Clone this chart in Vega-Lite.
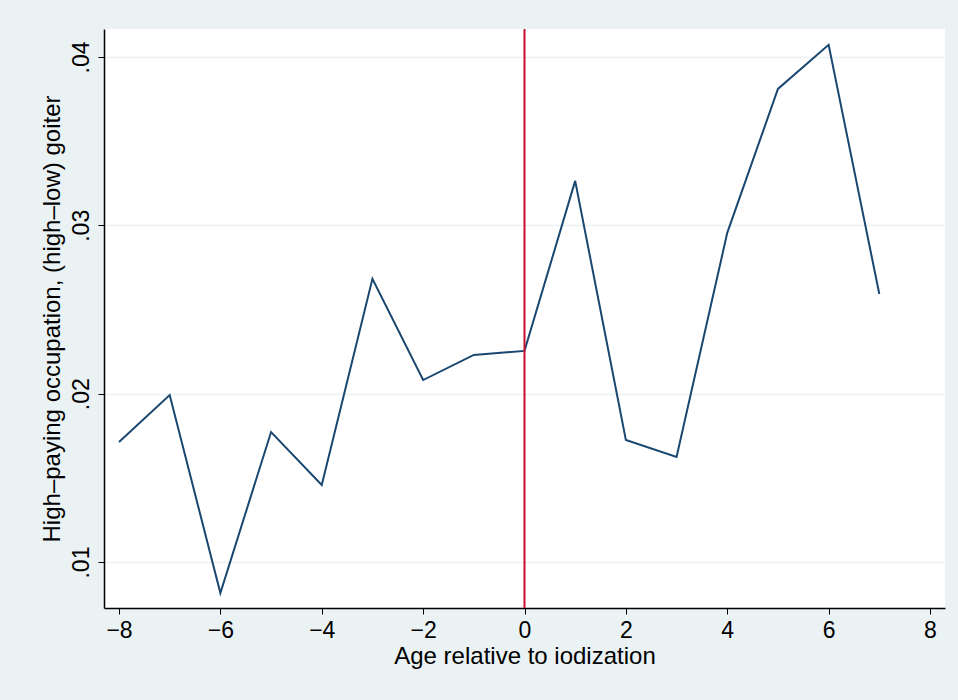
{
  "$schema": "https://vega.github.io/schema/vega-lite/v6.json",
  "width": 841,
  "height": 579,
  "autosize": {"type": "none"},
  "padding": {"left": 104, "top": 29, "right": 13, "bottom": 92},
  "background": "#EAF2F3",
  "config": {
    "view": {"fill": "white", "stroke": null},
    "font": "Liberation Sans"
  },
  "data": {
    "values": [
      {"age": -8, "value": 0.01713},
      {"age": -7, "value": 0.01992},
      {"age": -6, "value": 0.00816},
      {"age": -5, "value": 0.01772},
      {"age": -4, "value": 0.01458},
      {"age": -3, "value": 0.02682},
      {"age": -2, "value": 0.02081},
      {"age": -1, "value": 0.0223},
      {"age": 0, "value": 0.02254},
      {"age": 1, "value": 0.03264},
      {"age": 2, "value": 0.01725},
      {"age": 3, "value": 0.01624},
      {"age": 4, "value": 0.02955},
      {"age": 5, "value": 0.0381},
      {"age": 6, "value": 0.04072},
      {"age": 7, "value": 0.02592}
    ]
  },
  "layer": [
    {
      "mark": {"type": "line", "color": "#1A476F", "strokeWidth": 2},
      "encoding": {
        "x": {
          "field": "age",
          "type": "quantitative",
          "scale": {"domain": [-8.296, 8.296], "nice": false, "zero": false},
          "axis": {
            "values": [-8, -6, -4, -2, 0, 2, 4, 6, 8],
            "title": "Age relative to iodization",
            "titleFontSize": 24,
            "titleFontWeight": "normal",
            "titleColor": "black",
            "titlePadding": 2,
            "labelFontSize": 23,
            "labelColor": "black",
            "labelPadding": 5,
            "tickColor": "black",
            "tickSize": 6,
            "domainColor": "black",
            "domainWidth": 1.5,
            "grid": false
          }
        },
        "y": {
          "field": "value",
          "type": "quantitative",
          "scale": {"domain": [0.00727, 0.04166], "nice": false, "zero": false},
          "axis": {
            "values": [0.01, 0.02, 0.03, 0.04],
            "labelExpr": "replace(format(datum.value, '.2f'), '0.', '.')",
            "labelAngle": -90,
            "labelAlign": "center",
            "labelBaseline": "bottom",
            "labelFontSize": 23,
            "labelColor": "black",
            "labelPadding": 5,
            "title": "High–paying occupation, (high–low) goiter",
            "titleFontSize": 24,
            "titleFontWeight": "normal",
            "titleColor": "black",
            "titlePadding": 6,
            "tickColor": "black",
            "tickSize": 6,
            "domainColor": "black",
            "domainWidth": 1.5,
            "grid": true,
            "gridColor": "#EAF2F3",
            "gridWidth": 1.5
          }
        }
      }
    },
    {
      "data": {"values": [{"x": 0}]},
      "mark": {"type": "rule", "color": "#C8102E", "strokeWidth": 2},
      "encoding": {"x": {"field": "x", "type": "quantitative"}}
    }
  ]
}
